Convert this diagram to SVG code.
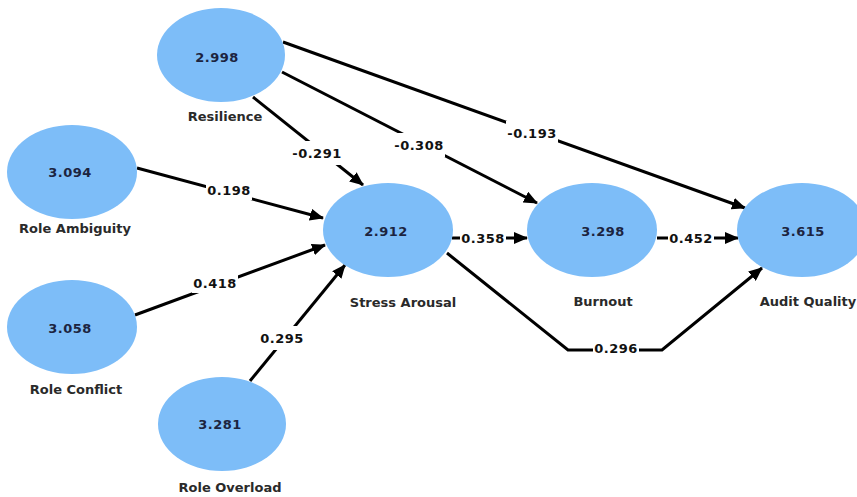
<svg xmlns="http://www.w3.org/2000/svg" width="857" height="497" viewBox="0 0 857 497">
<style>
.node ellipse{fill:#7dbdf8}
.val{font-family:"DejaVu Sans",Verdana,sans-serif;font-weight:bold;font-size:13px;fill:#1c2440;text-anchor:middle;dominant-baseline:central;letter-spacing:0.5px}
.lbl{font-family:"DejaVu Sans",Verdana,sans-serif;font-weight:bold;font-size:13px;fill:#2a2a2a;text-anchor:middle;dominant-baseline:central}
.edge{stroke:#000;stroke-width:3;fill:none;marker-end:url(#arr)}
.gap{fill:#fff}
.elbl{font-family:"DejaVu Sans",Verdana,sans-serif;font-weight:bold;font-size:13px;fill:#111;text-anchor:middle;dominant-baseline:central;letter-spacing:0.5px}
</style>
<defs>
<marker id="arr" markerUnits="userSpaceOnUse" markerWidth="14" markerHeight="12" refX="13" refY="6" orient="auto">
<path d="M0,0 L14,6 L0,12 z" fill="#000"/>
</marker>
</defs>
<rect width="857" height="497" fill="#fff"/>
<g id="connectors">
<line class="edge" x1="253" y1="97" x2="363" y2="185"/>
<line class="edge" x1="282" y1="72" x2="537" y2="203"/>
<line class="edge" x1="283" y1="42" x2="745" y2="208"/>
<line class="edge" x1="137" y1="168" x2="323" y2="218"/>
<line class="edge" x1="135" y1="315" x2="325" y2="245"/>
<line class="edge" x1="250" y1="381" x2="345" y2="265"/>
<line class="edge" x1="452" y1="238" x2="527" y2="238"/>
<line class="edge" x1="657" y1="238" x2="738" y2="238"/>
<polyline class="edge" points="447,253 568,350 662,350 762,268"/>
<rect class="gap" x="291" y="141" width="52" height="24"/>
<rect class="gap" x="393" y="133" width="52" height="24"/>
<rect class="gap" x="506" y="121" width="52" height="24"/>
<rect class="gap" x="206" y="180" width="46" height="20"/>
<rect class="gap" x="192" y="273" width="46" height="20"/>
<rect class="gap" x="259" y="326" width="46" height="24"/>
<rect class="gap" x="460" y="230" width="46" height="16"/>
<rect class="gap" x="668" y="230" width="46" height="16"/>
<rect class="gap" x="593" y="340" width="46" height="16"/>
<text class="elbl" x="317" y="153">-0.291</text>
<text class="elbl" x="419" y="145">-0.308</text>
<text class="elbl" x="532" y="133">-0.193</text>
<text class="elbl" x="229" y="190">0.198</text>
<text class="elbl" x="215" y="283">0.418</text>
<text class="elbl" x="282" y="338">0.295</text>
<text class="elbl" x="483" y="238">0.358</text>
<text class="elbl" x="691" y="238">0.452</text>
<text class="elbl" x="616" y="348">0.296</text>
</g>
<g id="resilience" class="node">
<ellipse cx="221" cy="55" rx="64" ry="47"/>
<text class="val" x="217" y="57">2.998</text>
<text class="lbl" x="225" y="116">Resilience</text>
</g>
<g id="role-ambiguity" class="node">
<ellipse cx="72" cy="172" rx="65" ry="47"/>
<text class="val" x="70" y="172">3.094</text>
<text class="lbl" x="75" y="228">Role Ambiguity</text>
</g>
<g id="stress-arousal" class="node">
<ellipse cx="388" cy="230" rx="65" ry="47"/>
<text class="val" x="386" y="231">2.912</text>
<text class="lbl" x="403" y="302">Stress Arousal</text>
</g>
<g id="burnout" class="node">
<ellipse cx="592" cy="230" rx="65" ry="47"/>
<text class="val" x="603" y="231">3.298</text>
<text class="lbl" x="603" y="301">Burnout</text>
</g>
<g id="audit-quality" class="node">
<ellipse cx="802" cy="230" rx="65" ry="47"/>
<text class="val" x="803" y="231">3.615</text>
<text class="lbl" x="808" y="301">Audit Quality</text>
</g>
<g id="role-conflict" class="node">
<ellipse cx="72" cy="327" rx="65" ry="47"/>
<text class="val" x="70" y="328">3.058</text>
<text class="lbl" x="76" y="389">Role Conflict</text>
</g>
<g id="role-overload" class="node">
<ellipse cx="222" cy="424" rx="64" ry="47"/>
<text class="val" x="220" y="424">3.281</text>
<text class="lbl" x="230" y="487">Role Overload</text>
</g>
</svg>
